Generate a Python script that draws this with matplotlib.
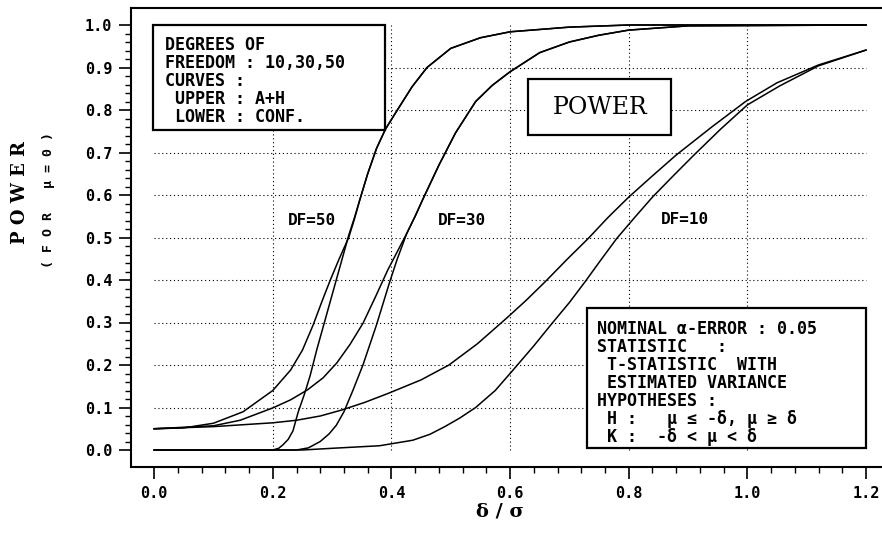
import numpy as np
import matplotlib
matplotlib.use("Agg")
import matplotlib.pyplot as plt
from matplotlib.patches import Rectangle
from matplotlib.ticker import FixedLocator

# values (delta / sigma  ->  power)
df50_upper_x = [0.0, 0.05, 0.10, 0.15, 0.20, 0.23, 0.25, 0.268, 0.283, 0.297, 0.312, 0.328, 0.338, 0.347,
                0.36, 0.375, 0.39, 0.41, 0.435, 0.46, 0.50, 0.55, 0.60, 0.70, 0.80, 1.20]
df50_upper_y = [0.05, 0.052, 0.063, 0.09, 0.14, 0.188, 0.235, 0.294, 0.35, 0.40, 0.45, 0.50, 0.545, 0.59,
                0.65, 0.71, 0.755, 0.80, 0.855, 0.90, 0.945, 0.97, 0.984, 0.995, 1.0, 1.0]
df50_lower_x = [0.0, 0.20, 0.21, 0.217, 0.226, 0.234, 0.243, 0.253, 0.263, 0.274, 0.285, 0.297, 0.308,
                0.318, 0.328, 0.338, 0.347, 0.36, 0.375, 0.39, 0.41, 0.435, 0.46, 0.50, 0.55, 0.60, 0.70, 0.80, 1.20]
df50_lower_y = [0.0, 0.0, 0.004, 0.012, 0.025, 0.045, 0.09, 0.13, 0.175, 0.235, 0.29, 0.35, 0.405,
                0.455, 0.505, 0.548, 0.59, 0.65, 0.71, 0.755, 0.80, 0.855, 0.90, 0.945, 0.97, 0.984, 0.995, 1.0, 1.0]

df30_upper_x = [0.0, 0.10, 0.145, 0.20, 0.23, 0.258, 0.285, 0.308, 0.33, 0.352, 0.373, 0.394, 0.41, 0.426,
                0.44, 0.453, 0.48, 0.508, 0.542, 0.57, 0.60, 0.65, 0.70, 0.75, 0.80, 0.90, 1.20]
df30_upper_y = [0.05, 0.057, 0.07, 0.099, 0.118, 0.141, 0.17, 0.205, 0.248, 0.298, 0.36, 0.424, 0.467, 0.51,
                0.55, 0.59, 0.67, 0.746, 0.82, 0.858, 0.89, 0.935, 0.96, 0.976, 0.988, 0.998, 1.0]
df30_lower_x = [0.0, 0.24, 0.26, 0.28, 0.295, 0.307, 0.32, 0.335, 0.352, 0.375, 0.397, 0.41, 0.426,
                0.44, 0.453, 0.48, 0.508, 0.542, 0.57, 0.60, 0.65, 0.70, 0.75, 0.80, 0.90, 1.20]
df30_lower_y = [0.0, 0.0, 0.005, 0.02, 0.038, 0.058, 0.09, 0.14, 0.20, 0.295, 0.395, 0.45, 0.51,
                0.55, 0.59, 0.67, 0.746, 0.82, 0.858, 0.89, 0.935, 0.96, 0.976, 0.988, 0.998, 1.0]

df10_upper_x = [0.0, 0.10, 0.20, 0.24, 0.28, 0.316, 0.355, 0.396, 0.45, 0.497, 0.545, 0.594, 0.627, 0.66,
                0.695, 0.732, 0.765, 0.80, 0.84, 0.88, 0.94, 0.997, 1.05, 1.12, 1.20]
df10_upper_y = [0.05, 0.055, 0.064, 0.07, 0.08, 0.094, 0.112, 0.134, 0.165, 0.20, 0.25, 0.31, 0.352, 0.397,
                0.447, 0.498, 0.547, 0.595, 0.645, 0.694, 0.76, 0.82, 0.864, 0.906, 0.941]
df10_lower_x = [0.0, 0.25, 0.30, 0.38, 0.436, 0.465, 0.49, 0.515, 0.542, 0.575, 0.605, 0.64, 0.672, 0.70,
                0.726, 0.753, 0.78, 0.81, 0.84, 0.875, 0.91, 0.955, 1.00, 1.055, 1.12, 1.20]
df10_lower_y = [0.0, 0.0, 0.004, 0.01, 0.023, 0.037, 0.055, 0.075, 0.10, 0.14, 0.188, 0.245, 0.30, 0.347,
                0.395, 0.447, 0.498, 0.547, 0.595, 0.645, 0.694, 0.755, 0.812, 0.857, 0.904, 0.941]

x_ticks = [0.0, 0.2, 0.4, 0.6, 0.8, 1.0, 1.2]
y_ticks = [0.0, 0.1, 0.2, 0.3, 0.4, 0.5, 0.6, 0.7, 0.8, 0.9, 1.0]
curve_labels = ["DF=50", "DF=30", "DF=10"]
label_x = [0.266, 0.519, 0.894]
label_y = [0.54, 0.54, 0.543]

info_text = "DEGREES OF\nFREEDOM : 10,30,50\nCURVES :\n UPPER : A+H\n LOWER : CONF."
stat_text = ("NOMINAL \u03b1-ERROR : 0.05\nSTATISTIC   :\n T-STATISTIC  WITH\n ESTIMATED VARIANCE\n"
             "HYPOTHESES :\n H :   \u03bc \u2264 -\u03b4, \u03bc \u2265 \u03b4\n K :  -\u03b4 < \u03bc < \u03b4")

MONO = "DejaVu Sans Mono"

fig = plt.figure(figsize=(8.82, 5.38), dpi=100)
ax = fig.add_axes([131 / 882, 1 - 467 / 538, 1 - 131 / 882, (467 - 8) / 538])
ax.set_xlim(-0.039, 1.227)
ax.set_ylim(-0.04, 1.04)

# dotted grid, only inside the data area
for gx in x_ticks[1:-1]:
    ax.plot([gx, gx], [0, 1.0], color="black", lw=0.8, ls=(0, (1, 2.5)), zorder=1)
for gy in y_ticks[1:-1]:
    ax.plot([0, 1.2], [gy, gy], color="black", lw=0.8, ls=(0, (1, 2.5)), zorder=1)

for xs, ys in [(df50_upper_x, df50_upper_y), (df50_lower_x, df50_lower_y),
               (df30_upper_x, df30_upper_y), (df30_lower_x, df30_lower_y),
               (df10_upper_x, df10_upper_y), (df10_lower_x, df10_lower_y)]:
    ax.plot(xs, ys, color="black", lw=1.1, zorder=3)

for lab, lx, ly in zip(curve_labels, label_x, label_y):
    ax.text(lx, ly, lab, family=MONO, fontweight="bold", fontsize=11.5,
            ha="center", va="center", zorder=4)

# boxes
ax.add_patch(Rectangle((-0.002, 0.753), 0.391, 0.247, facecolor="white",
                       edgecolor="black", lw=1.6, zorder=5))
ax.text(0.0185, 0.975, info_text, family=MONO, fontweight="bold", fontsize=12,
        ha="left", va="top", linespacing=1.0, zorder=6)

ax.add_patch(Rectangle((0.631, 0.741), 0.241, 0.132, facecolor="white",
                       edgecolor="black", lw=1.6, zorder=5))
ax.text(0.7515, 0.807, "POWER", family="DejaVu Serif", fontsize=17,
        ha="center", va="center", zorder=6)

ax.add_patch(Rectangle((0.729, 0.005), 0.471, 0.329, facecolor="white",
                       edgecolor="black", lw=1.6, zorder=5))
ax.text(0.747, 0.305, stat_text, family=MONO, fontweight="bold", fontsize=12,
        ha="left", va="top", linespacing=1.0, zorder=6)

# axes styling
ax.spines["right"].set_visible(False)
for s in ["left", "bottom", "top"]:
    ax.spines[s].set_linewidth(1.5)

ax.xaxis.set_major_locator(FixedLocator(x_ticks))
ax.yaxis.set_major_locator(FixedLocator(y_ticks))
ax.xaxis.set_minor_locator(FixedLocator(np.arange(0, 1.2001, 0.04)))
ax.yaxis.set_minor_locator(FixedLocator(np.arange(0, 1.0001, 0.02)))
ax.set_xticklabels([f"{v:.1f}" for v in x_ticks])
ax.set_yticklabels([f"{v:.1f}" for v in y_ticks])
ax.tick_params(which="major", direction="out", length=8.5, width=1.2, pad=5)
ax.tick_params(which="minor", direction="out", length=4, width=1.0)
ax.tick_params(axis="y", which="major", pad=5)
for t in ax.get_xticklabels() + ax.get_yticklabels():
    t.set_family(MONO)
    t.set_fontweight("bold")
    t.set_fontsize(11)

fig.text(20 / 882, 1 - 193 / 538, "P O W E R", family="DejaVu Serif", fontweight="bold",
         fontsize=13, rotation=90, ha="center", va="center")
fig.text(49 / 882, 1 - 200 / 538, "( F O R   \u03bc = 0 )", family=MONO, fontweight="bold",
         fontsize=9.5, rotation=90, ha="center", va="center")
fig.text(500 / 882, 1 - 512 / 538, "\u03b4 / \u03c3", family="DejaVu Serif", fontweight="bold",
         fontsize=14, ha="center", va="center")

fig.savefig("out.png", dpi=100)
